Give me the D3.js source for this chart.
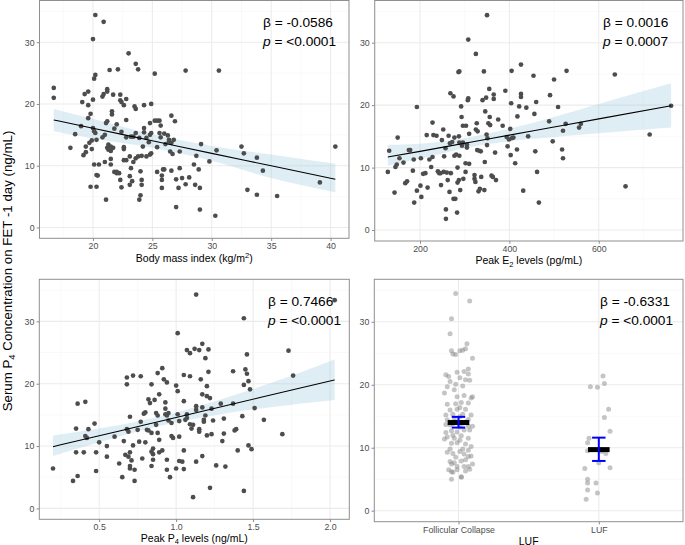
<!DOCTYPE html>
<html><head><meta charset="utf-8">
<script src="https://cdn.jsdelivr.net/npm/d3@7"></script>
<style>body{margin:0;background:#fff}svg{display:block}</style>
</head><body><svg id="c" width="685" height="545"></svg>
<script>
// ---------- DATA ----------
const bmiX = [16.7,16.7,18.1,18.5,19.0,19.1,19.3,19.6,19.6,19.6,
19.8,19.2,19.4,19.4,19.7,19.9,19.9,20.0,20.1,20.2,
19.8,20.3,20.1,20.5,20.3,20.4,20.0,20.2,20.9,20.1,
20.2,20.0,20.3,20.8,20.8,20.9,21.2,21.2,21.1,21.0,
21.1,21.2,21.0,21.2,21.3,21.3,21.5,21.5,21.7,21.4,
21.6,21.6,21.5,21.5,21.8,21.8,22.0,22.0,22.2,21.7,
22.0,22.1,22.3,22.3,22.4,22.6,22.8,22.4,22.3,22.6,
22.8,22.8,22.8,22.6,22.6,22.4,23.0,23.1,23.2,23.1,
23.2,23.4,23.4,23.3,23.1,23.6,23.8,23.5,23.6,23.6,
23.6,23.8,23.9,24.0,24.0,24.1,24.1,24.1,24.3,24.3,
24.3,24.2,23.9,24.5,24.7,24.8,24.8,24.8,24.9,24.9,
24.5,24.9,25.2,25.2,25.4,25.4,25.4,25.6,25.6,25.7,
25.7,25.8,25.8,25.8,25.9,26.0,26.1,26.0,26.3,26.4,
26.4,26.6,26.6,26.5,26.6,26.7,26.8,26.9,27.0,27.0,
27.2,27.3,27.3,27.5,27.8,27.8,28.1,28.5,28.6,28.7,
28.9,29.0,29.0,29.1,29.8,30.3,30.4,30.6,32.5,32.7,
33.0,33.8,33.8,34.3,35.5,39.1,40.4];
const bmiY = [22.6,21.0,12.9,15.1,16.4,20.3,21.6,22.0,19.8,17.7,
18.4,11.7,12.2,13.1,13.7,12.7,14.1,16.1,15.6,15.3,
6.6,6.6,10.2,10.2,8.5,8.4,30.5,34.4,33.3,24.1,
24.7,20.7,14.2,14.6,21.2,21.6,22.4,22.0,4.5,10.6,
16.9,17.2,15.0,12.9,12.6,13.4,12.4,13.1,12.9,25.5,
18.3,18.8,11.1,10.2,16.0,9.0,8.8,9.0,8.8,21.5,
16.7,25.6,21.5,20.6,20.3,19.8,20.8,6.5,7.7,10.9,
10.9,17.4,14.6,13.0,12.7,15.5,28.2,8.3,9.6,11.5,
14.7,14.7,10.6,7.5,6.9,26.5,25.6,19.6,19.2,15.3,
11.2,11.5,4.5,5.2,9.1,7.7,6.9,11.6,19.8,16.1,
15.4,13.1,14.5,11.5,13.8,15.0,16.9,11.8,12.0,20.0,
14.5,15.3,24.9,17.3,9.0,17.3,13.0,17.3,15.3,16.5,
14.6,7.7,6.4,8.4,9.4,15.2,13.5,9.4,14.9,14.2,
13.9,18.1,13.7,12.3,9.2,11.9,14.2,17.2,7.8,3.3,
6.4,12.3,9.6,8.0,25.4,7.0,8.1,10.2,6.9,11.6,
9.4,2.9,6.4,13.5,10.7,1.9,12.5,25.4,13.1,12.0,
6.1,11.3,5.3,9.2,5.1,7.3,13.1];

const e2X = [128,131,143,145,148,150,154,163,167,171,
175,178,184,186,187,193,193,201,202,203,
207,212,215,217,221,225,228,228,230,237,
240,243,246,247,249,252,253,254,257,258,
258,260,262,264,266,268,267,269,272,275,
275,277,279,277,281,283,284,284,286,287,
288,287,288,288,290,292,293,294,296,297,
296,302,303,302,305,305,307,308,308,310,
310,322,322,324,325,325,327,328,329,331,
333,334,336,337,340,343,344,345,346,348,
349,350,351,350,353,355,356,357,360,363,
365,365,368,370,375,385,391,394,396,399,
402,403,404,405,405,409,413,417,418,422,
426,426,426,431,438,442,454,456,458,460,
462,466,489,491,497,500,509,518,520,520,
526,528,556,560,636,660,714,762];
const e2Y = [9.3,12.7,6.0,10.1,10.5,14.8,11.5,10.8,7.5,7.8,
12.8,12.8,9.5,11.3,4.4,19.7,6.3,7.1,11.5,5.3,
9.0,9.1,15.2,6.8,11.3,10.1,17.2,11.7,15.2,15.1,
9.4,9.1,9.1,7.2,14.4,16.1,9.3,11.8,13.1,3.3,
1.8,9.2,8.0,15.1,6.1,21.9,13.9,9.1,14.1,21.4,
5.0,14.8,5.0,11.9,12.1,2.8,10.0,7.6,25.3,15.0,
25.4,8.0,11.9,14.0,6.4,19.8,18.1,13.5,14.0,8.2,
16.7,10.7,16.7,9.3,13.2,13.7,20.8,21.1,30.5,10.6,
15.4,8.2,8.8,7.7,28.2,16.1,17.1,12.8,15.8,6.2,
12.7,6.6,12.6,8.5,20.8,25.4,6.4,10.9,19.0,21.2,
15.3,13.6,14.7,34.4,17.1,22.6,18.1,16.8,8.7,8.5,
21.7,21.0,12.4,8.0,17.7,16.7,22.3,14.9,13.4,14.5,
16.2,12.0,20.3,25.5,14.7,14.8,10.7,12.9,18.2,19.8,
26.5,21.8,21.3,6.3,19.6,15.0,24.7,18.6,12.6,20.5,
9.3,4.4,17.4,21.6,14.2,24.1,19.7,12.9,15.9,11.5,
17.0,25.5,16.4,17.0,24.9,7.0,15.3,19.9];

const p4X = [0.20,0.33,0.36,0.35,0.35,0.36,0.40,0.41,0.41,0.42,
0.43,0.47,0.48,0.48,0.50,0.55,0.55,0.60,0.63,0.65,
0.66,0.67,0.68,0.68,0.68,0.69,0.69,0.70,0.70,0.70,
0.71,0.70,0.72,0.72,0.73,0.73,0.75,0.76,0.77,0.77,
0.78,0.79,0.80,0.80,0.81,0.82,0.82,0.83,0.84,0.84,
0.84,0.84,0.85,0.85,0.85,0.86,0.87,0.87,0.88,0.88,
0.88,0.89,0.89,0.89,0.91,0.91,0.92,0.93,0.93,0.93,
0.94,0.94,0.94,0.94,0.95,0.95,0.96,0.97,0.97,0.98,
1.00,1.00,1.01,1.01,1.01,1.02,1.02,1.02,1.04,1.05,
1.05,1.05,1.05,1.06,1.07,1.07,1.07,1.09,1.09,1.09,
1.10,1.11,1.11,1.12,1.13,1.13,1.13,1.13,1.15,1.15,
1.15,1.16,1.17,1.17,1.17,1.17,1.18,1.18,1.19,1.19,
1.20,1.20,1.20,1.21,1.21,1.22,1.22,1.23,1.23,1.24,
1.26,1.29,1.30,1.31,1.31,1.32,1.37,1.37,1.38,1.39,
1.40,1.43,1.44,1.44,1.44,1.45,1.46,1.46,1.47,1.47,
1.48,1.49,1.51,1.57,1.69,1.73,1.76,2.03];
const p4Y = [6.4,4.4,5.2,12.8,9.0,16.8,9.0,17.1,11.6,11.3,
12.7,13.6,9.0,6.0,10.6,10.0,8.3,11.5,7.2,5.0,
10.8,8.6,21.0,19.9,12.7,12.3,8.3,14.7,6.4,9.0,
7.7,6.8,21.3,10.1,6.2,4.4,12.6,10.7,13.9,21.2,
8.0,15.2,15.4,10.6,12.6,12.5,17.5,16.9,19.9,12.1,
9.1,6.8,8.7,7.8,9.6,17.4,15.3,13.4,21.7,12.1,
14.9,9.0,11.0,18.3,22.5,9.3,20.7,16.0,17.0,15.1,
20.2,14.9,7.8,6.2,14.1,15.3,5.0,13.7,11.6,11.3,
6.4,19.7,28.1,18.8,15.1,14.0,11.5,7.6,7.5,21.4,
17.2,9.3,6.3,14.2,25.4,15.1,14.5,13.5,24.9,21.2,
12.8,1.8,13.4,25.6,34.3,16.4,15.8,7.5,25.4,12.7,
12.3,20.7,18.3,16.2,26.4,8.4,13.9,14.2,14.9,24.1,
18.0,11.7,19.6,21.9,25.5,3.3,17.7,11.9,16.0,14.1,
6.9,16.8,10.8,12.0,14.4,6.7,22.0,16.8,12.5,12.7,
9.3,14.8,30.5,19.8,2.8,22.3,21.6,24.7,10.1,20.4,
19.1,9.5,16.1,14.2,11.9,25.3,21.3,33.4];

const groups = ["Follicular Collapse", "LUF"];
const fcJit = [-0.02,0.08,-0.05,-0.06,-0.05,-0.04,-0.02,0.01,0.03,0.05,
0.06,0.10,-0.09,-0.07,-0.01,0.04,0.07,0.07,0.05,0.08,
0.01,-0.08,-0.06,-0.02,0.03,-0.10,-0.03,-0.01,0.04,0.09,
0.10,-0.08,-0.02,0.02,0.07,-0.06,0.01,0.05,-0.09,-0.04,
0.03,0.09,-0.08,-0.03,0.05,-0.06,0.01,0.07,0.10,-0.09,
-0.05,-0.01,0.04,0.08,-0.08,-0.03,0.02,0.07,-0.10,-0.05,
-0.01,0.05,0.09,-0.08,-0.04,0.01,0.04,-0.02,0.07,0.09,
-0.06,-0.03,0.02,0.05,0.10,-0.05,-0.01,0.07,-0.07,-0.05,
-0.04,-0.01,0.02,0.05,0.08,-0.05,0.02,0.04,-0.04,-0.02,
0.03,-0.04,0.01,-0.06,0.03,0.07,0.01,-0.01,0.07,-0.09];
const fcY = [34.5,33.3,30.5,28.1,25.4,24.9,24.8,25.4,25.5,25.7,
26.5,24.2,21.6,21.3,22.0,22.1,22.5,21.7,20.8,20.7,
21.1,19.7,20.5,20.1,19.8,18.7,19.2,18.1,18.3,17.9,
18.1,16.9,17.0,17.2,17.1,16.0,16.4,16.1,15.2,15.3,
15.3,15.2,14.4,14.6,14.1,13.6,13.3,13.4,13.4,12.4,
12.7,12.5,12.8,12.8,11.7,11.5,11.9,11.5,11.4,10.7,
10.8,10.6,10.2,9.3,9.1,9.4,9.0,8.5,8.6,8.7,
7.8,7.6,7.9,8.1,7.4,7.4,7.0,7.0,6.5,6.2,
6.1,6.5,5.4,6.3,6.6,5.0,5.3,7.0,13.8,14.1,
13.9,12.0,11.2,9.8,9.8,9.6,14.9,16.1,14.5,13.7];
const lufJit = [0.03,0.04,-0.06,-0.01,0.07,0.04,0.08,-0.07,-0.08,-0.08,0.05,0.00,0.08,-0.10,-0.08,-0.08,-0.02,-0.08,-0.01,-0.09,0.02];
const lufY = [21.4,20.2,19.7,19.6,16.1,14.8,12.6,11.5,10.8,9.5,9.1,7.6,6.8,6.7,5.0,4.4,4.4,3.3,2.8,1.8,9.4];
const groupMean = [14.0, 9.7];
const groupLo = [13.2, 7.9];
const groupHi = [14.9, 11.6];

// regression fits
const bmiFitX = [16.7, 20, 25, 30, 35, 40.4];
const bmiFit  = [17.4, 16.06, 14.04, 12.0, 9.99, 7.8];
const bmiLo   = [15.6, 14.4, 12.9, 10.8, 8.0, 5.7];
const bmiHi   = [19.2, 17.6, 15.1, 13.2, 11.8, 10.3];
const e2FitX = [128, 200, 300, 400, 500, 600, 762];
const e2Fit  = [11.7, 12.6, 13.9, 15.2, 16.5, 17.8, 19.9];
const e2Lo   = [10.3, 11.4, 13.1, 14.2, 14.9, 15.5, 16.4];
const e2Hi   = [13.6, 13.8, 14.7, 16.2, 18.1, 20.2, 23.5];
const p4FitX = [0.2, 0.5, 0.8, 1.0, 1.3, 1.6, 2.03];
const p4Fit  = [9.9, 11.66, 13.41, 14.59, 16.35, 18.1, 20.6];
const p4Lo   = [8.4, 10.6, 12.65, 13.8, 15.15, 16.2, 17.4];
const p4Hi   = [11.7, 12.8, 14.2, 15.4, 17.55, 20.0, 23.9];

const betas = ["-0.0586", "0.0016", "0.7466", "-0.6331"];
const pvals = ["<0.0001", "0.0007", "<0.0001", "<0.0001"];

const yTicks = [0, 10, 20, 30];
const yMinor = [5, 15, 25, 35];
const bmiTicks = [20, 25, 30, 35, 40], bmiMinor = [17.5, 22.5, 27.5, 32.5, 37.5];
const e2Ticks = [200, 400, 600], e2Minor = [100, 300, 500, 700];
const p4Ticks = [0.5, 1.0, 1.5, 2.0], p4Minor = [0.25, 0.75, 1.25, 1.75];

// ---------- DRAW ----------
const FONT = '"Liberation Sans", Arial, Helvetica, sans-serif';
const svg = d3.select("#c").style("font-family", FONT);
const yDomain = [-1.75, 36.75];

function frame(r) {
  const y = d3.scaleLinear().domain(yDomain).range([r.y1, r.y0]);
  const g = svg.append("g");
  g.append("rect").attr("x", r.x0).attr("y", r.y0).attr("width", r.x1 - r.x0).attr("height", r.y1 - r.y0).attr("fill", "#fff");
  return {g, y};
}
function grid(g, r, x, y, xMaj, xMin) {
  const gg = g.append("g");
  yMinor.forEach(v => gg.append("line").attr("x1", r.x0).attr("x2", r.x1).attr("y1", y(v)).attr("y2", y(v)).attr("stroke", "#f4f4f4").attr("stroke-width", 0.55));
  (xMin || []).forEach(v => gg.append("line").attr("y1", r.y0).attr("y2", r.y1).attr("x1", x(v)).attr("x2", x(v)).attr("stroke", "#f4f4f4").attr("stroke-width", 0.55));
  yTicks.forEach(v => gg.append("line").attr("x1", r.x0).attr("x2", r.x1).attr("y1", y(v)).attr("y2", y(v)).attr("stroke", "#ebebeb").attr("stroke-width", 1.05));
  xMaj.forEach(v => gg.append("line").attr("y1", r.y0).attr("y2", r.y1).attr("x1", x(v)).attr("x2", x(v)).attr("stroke", "#ebebeb").attr("stroke-width", 1.05));
}
function axes(g, r, x, y, xTicks, fmt) {
  const ax = g.append("g").attr("transform", `translate(0,${r.y1})`)
    .call(fmt ? d3.axisBottom(x).tickValues(xTicks).tickFormat(fmt).tickSize(2.75).tickPadding(2.2)
              : d3.axisBottom(x).tickSize(2.75).tickPadding(2.2));
  const ay = g.append("g").attr("transform", `translate(${r.x0},0)`)
    .call(d3.axisLeft(y).tickValues(yTicks).tickFormat(d3.format("d")).tickSize(2.75).tickPadding(2.2));
  [ax, ay].forEach(a => {
    a.select(".domain").remove();
    a.selectAll(".tick line").attr("stroke", "#8a8a8a");
    a.selectAll(".tick text").attr("fill", "#4d4d4d").style("font-size", "8.8px").style("font-family", FONT);
  });
  g.append("rect").attr("x", r.x0).attr("y", r.y0).attr("width", r.x1 - r.x0).attr("height", r.y1 - r.y0)
    .attr("fill", "none").attr("stroke", "#8f8f8f").attr("stroke-width", 1);
}
function annot(g, x0, yb, i) {
  g.append("text").attr("x", x0).attr("y", yb).style("font-size", "13.7px").attr("fill", "#000").text("\u03B2 = " + betas[i]);
  const t = g.append("text").attr("x", x0).attr("y", yb + 18.5).style("font-size", "13.7px").attr("fill", "#000");
  t.append("tspan").style("font-style", "italic").text("p");
  t.append("tspan").text(" = " + pvals[i]);
}
function title(cx, yb, parts) {
  const t = svg.append("text").attr("x", cx).attr("y", yb).attr("text-anchor", "middle").style("font-size", "10.5px").attr("fill", "#000");
  parts.forEach(p => {
    if (typeof p === "string") t.append("tspan").text(p);
    else t.append("tspan").attr("dy", p.dy).style("font-size", "7.5px").text(p.t);
  });
  return t;
}
function scatter(r, xDom, xTicks, xMin, fmt, xs, ys, fx, ff, flo, fhi, ai, ax0, ayb) {
  const x = d3.scaleLinear().domain(xDom).range([r.x0, r.x1]);
  const {g, y} = frame(r);
  grid(g, r, x, y, xTicks, xMin);
  const idx = d3.range(fx.length);
  g.append("path").attr("d", d3.area().x(i => x(fx[i])).y0(i => y(flo[i])).y1(i => y(fhi[i])).curve(d3.curveMonotoneX)(idx))
    .attr("fill", "#9ecae1").attr("fill-opacity", 0.33);
  g.append("g").selectAll("circle").data(d3.range(xs.length)).join("circle")
    .attr("cx", i => x(xs[i])).attr("cy", i => y(ys[i])).attr("r", 2.35).attr("fill", "#4d4d4d");
  g.append("path").attr("d", d3.line().x(i => x(fx[i])).y(i => y(ff[i])).curve(d3.curveMonotoneX)(idx))
    .attr("fill", "none").attr("stroke", "#000").attr("stroke-width", 1.05);
  axes(g, r, x, y, xTicks, fmt);
  annot(g, ax0, ayb, ai);
}

const R1 = {x0: 39.5, x1: 349, y0: 0.5, y1: 238.3};
const R2 = {x0: 374.7, x1: 683, y0: 0.5, y1: 241};
const R3 = {x0: 39.3, x1: 349.3, y0: 279.3, y1: 519.3};
const R4 = {x0: 374.3, x1: 683, y0: 279.3, y1: 521.7};

scatter(R1, [15.5, 41.55], bmiTicks, bmiMinor, d3.format("d"), bmiX, bmiY, bmiFitX, bmiFit, bmiLo, bmiHi, 0, 263, 27);
scatter(R2, [98.6, 788.6], e2Ticks, e2Minor, d3.format("d"), e2X, e2Y, e2FitX, e2Fit, e2Lo, e2Hi, 1, 603, 27);
scatter(R3, [0.111, 2.125], p4Ticks, p4Minor, d3.format(".1f"), p4X, p4Y, p4FitX, p4Fit, p4Lo, p4Hi, 2, 268, 306);

// panel 4
(function () {
  const r = R4;
  const x = d3.scalePoint().domain(groups).range([r.x0, r.x1]).padding(0.6);
  const step = x.step();
  const {g, y} = frame(r);
  grid(g, r, x, y, groups, []);
  const pts = fcJit.map((j, i) => ({g: groups[0], j, v: fcY[i]}))
    .concat(lufJit.map((j, i) => ({g: groups[1], j, v: lufY[i]})));
  g.append("g").selectAll("circle").data(pts).join("circle")
    .attr("cx", d => x(d.g) + d.j * step).attr("cy", d => y(d.v)).attr("r", 2.5)
    .attr("fill", "#7f7f7f").attr("fill-opacity", 0.45);
  groups.forEach((k, i) => {
    const cx = x(k);
    g.append("line").attr("x1", cx - 0.077 * step).attr("x2", cx + 0.077 * step).attr("y1", y(groupMean[i])).attr("y2", y(groupMean[i]))
      .attr("stroke", "#000").attr("stroke-width", 5);
    const eb = g.append("g").attr("stroke", "#0000ff").attr("stroke-width", 2);
    eb.append("line").attr("x1", cx).attr("x2", cx).attr("y1", y(groupLo[i])).attr("y2", y(groupHi[i]));
    eb.append("line").attr("x1", cx - 0.048 * step).attr("x2", cx + 0.048 * step).attr("y1", y(groupLo[i])).attr("y2", y(groupLo[i]));
    eb.append("line").attr("x1", cx - 0.048 * step).attr("x2", cx + 0.048 * step).attr("y1", y(groupHi[i])).attr("y2", y(groupHi[i]));
  });
  axes(g, r, x, y, null, null);
  annot(g, 600, 306, 3);
})();

// axis titles
title((R1.x0 + R1.x1) / 2, 261.5, ["Body mass index (kg/m", {t: "2", dy: -4}]).call(t => t.append("tspan").attr("dy", 4).text(")"));
title((R2.x0 + R2.x1) / 2, 264, ["Peak E", {t: "2", dy: 2.5}]).call(t => t.append("tspan").attr("dy", -2.5).text(" levels (pg/mL)"));
title((R3.x0 + R3.x1) / 2, 541.5, ["Peak P", {t: "4", dy: 2.5}]).call(t => t.append("tspan").attr("dy", -2.5).text(" levels (ng/mL)"));
title((R4.x0 + R4.x1) / 2, 544.5, ["LUF"]);

const yt = svg.append("text").attr("transform", "translate(12,271) rotate(-90)").attr("text-anchor", "middle")
  .style("font-size", "13.3px").attr("fill", "#000");
yt.append("tspan").text("Serum P");
yt.append("tspan").attr("dy", 3).style("font-size", "9.5px").text("4");
yt.append("tspan").attr("dy", -3).text(" Concentration on FET -1 day (ng/mL)");
</script>
</body></html>
